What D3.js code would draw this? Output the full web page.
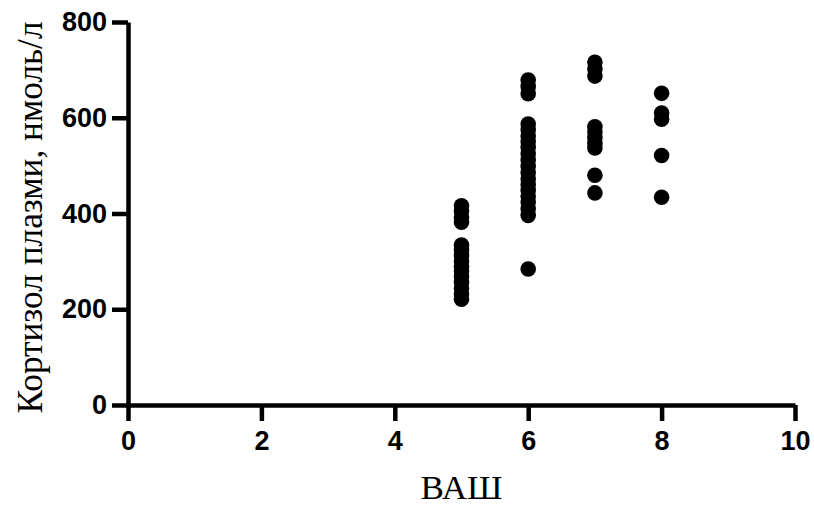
<!DOCTYPE html>
<html>
<head>
<meta charset="utf-8">
<script src="https://cdn.jsdelivr.net/npm/d3@7"></script>
<style>
  html, body { margin: 0; padding: 0; background: #fff; }
  svg { display: block; }
</style>
</head>
<body>
<svg id="chart" width="814" height="507"></svg>
<script>
// ВАШ score groups and plasma cortisol readings (нмоль/л)
const vasScores = [5, 6, 7, 8];
const cortisolAt5 = [416, 405, 392, 382, 334, 324, 312, 300, 290, 280, 268, 256, 244, 232, 221];
const cortisolAt6 = [679, 665, 650, 587, 575, 562, 550, 538, 525, 512, 498, 485, 472, 460, 448, 436, 424, 410, 396, 284];
const cortisolAt7 = [716, 702, 687, 581, 570, 558, 546, 537, 480, 443];
const cortisolAt8 = [651, 610, 597, 521, 434];
const xTicks = [0, 2, 4, 6, 8, 10];
const yTicks = [0, 200, 400, 600, 800];

const groups = [cortisolAt5, cortisolAt6, cortisolAt7, cortisolAt8];
const points = [];
vasScores.forEach((s, i) => groups[i].forEach(v => points.push({ x: s, y: v })));

const svg = d3.select("#chart");
const plotLeft = 128, plotRight = 795, plotTop = 22, plotBottom = 405;

const x = d3.scaleLinear().domain([0, 10]).range([plotLeft, plotRight]);
const y = d3.scaleLinear().domain([0, 800]).range([plotBottom, plotTop]);

const axisStyle = g => {
  g.selectAll("path.domain").attr("stroke", "#000").attr("stroke-width", 4.5);
  g.selectAll(".tick line").attr("stroke", "#000").attr("stroke-width", 4.5);
  g.selectAll(".tick text")
    .attr("font-family", "'Liberation Sans', Arial, sans-serif")
    .attr("font-weight", "bold")
    .attr("font-size", 27)
    .attr("fill", "#000");
};

svg.append("g")
  .attr("transform", `translate(0,${plotBottom})`)
  .call(d3.axisBottom(x).tickValues(xTicks).tickFormat(d3.format("d")).tickSize(16).tickSizeOuter(0).tickPadding(10))
  .call(axisStyle);

svg.append("g")
  .attr("transform", `translate(${plotLeft},0)`)
  .call(d3.axisLeft(y).tickValues(yTicks).tickFormat(d3.format("d")).tickSize(16).tickSizeOuter(0).tickPadding(5))
  .call(axisStyle);

svg.append("g")
  .selectAll("circle")
  .data(points)
  .join("circle")
  .attr("cx", d => x(d.x))
  .attr("cy", d => y(d.y))
  .attr("r", 7.8)
  .attr("fill", "#000");

svg.append("text")
  .attr("x", (plotLeft + plotRight) / 2)
  .attr("y", 499)
  .attr("text-anchor", "middle")
  .attr("font-family", "'Liberation Serif', 'Times New Roman', serif")
  .attr("font-size", 34)
  .attr("textLength", 82)
  .attr("lengthAdjust", "spacingAndGlyphs")
  .attr("fill", "#000")
  .text("ВАШ");

svg.append("text")
  .attr("transform", `translate(42,${(plotTop + plotBottom) / 2 + 4}) rotate(-90)`)
  .attr("text-anchor", "middle")
  .attr("font-family", "'Liberation Serif', 'Times New Roman', serif")
  .attr("font-size", 36)
  .attr("textLength", 392)
  .attr("lengthAdjust", "spacingAndGlyphs")
  .attr("fill", "#000")
  .text("Кортизол плазми, нмоль/л");
</script>
</body>
</html>
